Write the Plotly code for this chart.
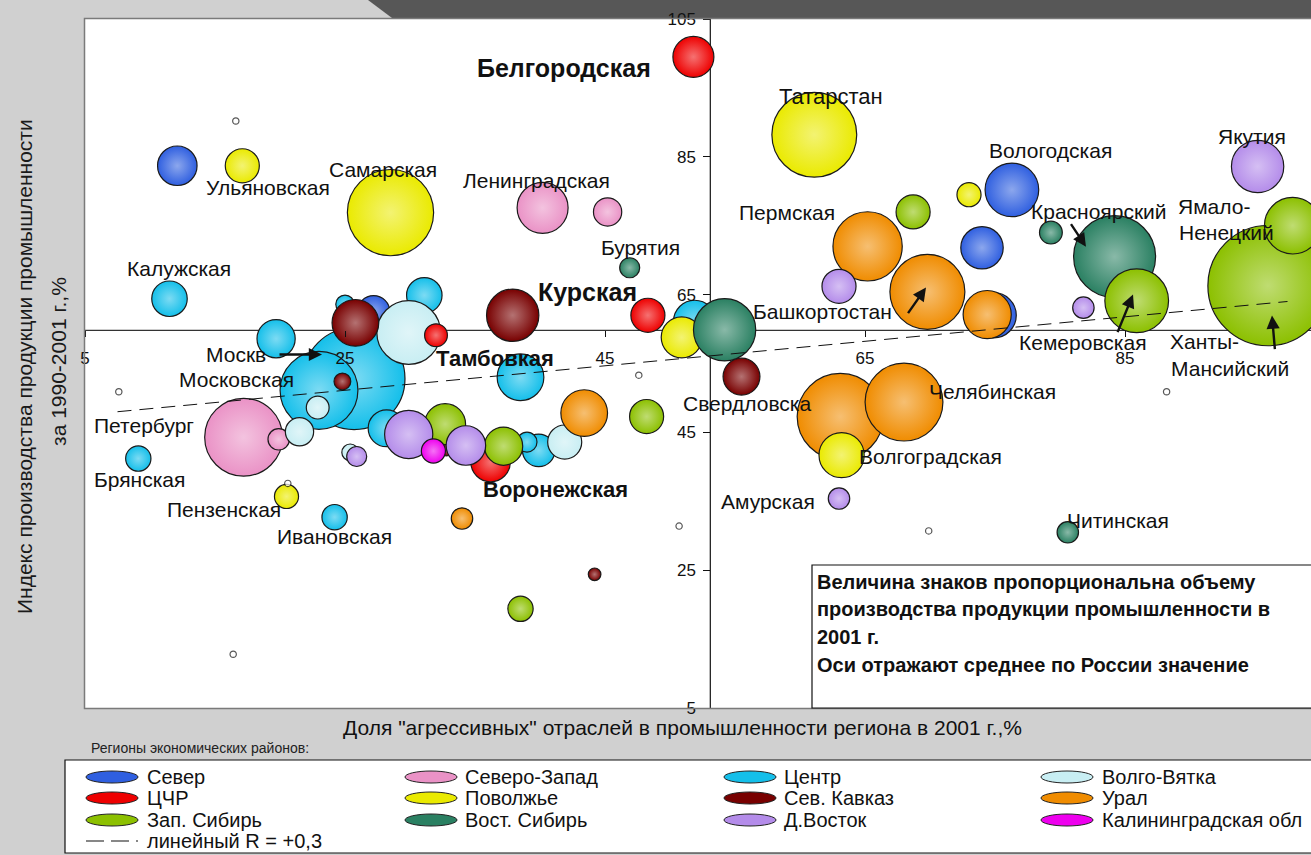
import plotly.graph_objects as go

# ---------------- DATA ----------------
# x: share of "aggressive" industries, %, y: industrial output index 1990-2001, %, v: output volume 2001 (rel. units)
sever_x = [12.1, 27.2, 76.3, 74.0, 74.9]
sever_y = [83.7, 62.5, 80.2, 71.8, 62.0]
sever_v = [7.8, 5.3, 14.4, 9.0, 10.2]
sever_n = ["", "", "Вологодская", "", ""]

szap_x = [17.2, 19.9, 40.2, 45.2]
szap_y = [44.3, 44.0, 77.6, 77.0]
szap_v = [30.3, 2.3, 13.0, 4.0]
szap_n = ["Петербург", "", "Ленинградская", ""]

centr_x = [11.5, 25.0, 31.1, 19.7, 25.7, 23.0, 9.1, 24.2, 28.2, 38.5, 39.0, 39.9, 51.9]
centr_y = [64.4, 63.6, 64.9, 58.6, 52.8, 51.1, 41.2, 32.7, 45.6, 53.0, 43.6, 42.4, 61.1]
centr_v = [6.3, 1.7, 6.3, 7.3, 51.8, 30.3, 3.2, 3.2, 6.8, 10.9, 2.0, 5.3, 9.0]
centr_n = ["Калужская", "", "", "", "Москва", "Московская", "Брянская", "Ивановская", "", "", "", "", ""]

vv_x = [29.9, 22.9, 21.5, 25.4, 41.9]
vv_y = [59.5, 48.6, 45.1, 42.1, 43.6]
vv_v = [20.3, 2.6, 4.0, 1.4, 5.8]
vv_n = ["", "", "", "", ""]

cchr_x = [51.8, 48.3, 32.0, 36.2]
cchr_y = [99.5, 62.0, 59.1, 40.7]
cchr_v = [8.4, 5.8, 2.6, 7.8]
cchr_n = ["Белгородская", "Курская", "Тамбовская", "Воронежская"]

povol_x = [17.1, 28.5, 20.5, 50.9, 61.1, 73.0, 63.2]
povol_y = [83.7, 76.9, 35.7, 58.8, 88.2, 79.5, 41.7]
povol_v = [5.8, 37.2, 2.9, 8.4, 36.0, 2.9, 10.2]
povol_n = ["Ульяновская", "Самарская", "Пензенская", "", "Татарстан", "", "Волгоградская"]

skav_x = [25.8, 37.9, 24.8, 32.8, 55.5, 44.2]
skav_y = [60.9, 62.0, 52.4, 42.5, 53.1, 24.4]
skav_v = [10.9, 13.7, 1.4, 0.8, 6.8, 0.8]
skav_n = ["", "", "", "", "", ""]

ural_x = [43.4, 34.0, 63.1, 68.0, 65.2, 69.8, 74.4]
ural_y = [47.8, 32.5, 47.3, 49.4, 72.0, 65.4, 62.1]
ural_v = [10.9, 2.3, 37.2, 30.3, 24.0, 28.1, 11.6]
ural_n = ["", "", "Свердловская", "Челябинская", "Пермская", "Башкортостан", ""]

zsib_x = [32.7, 37.2, 48.2, 38.5, 68.7, 85.9, 96.0, 97.9]
zsib_y = [46.2, 43.0, 47.3, 19.4, 77.0, 64.1, 66.3, 75.0]
zsib_v = [8.4, 7.3, 5.8, 3.2, 5.8, 20.3, 72.3, 16.0]
zsib_n = ["", "", "", "", "", "Кемеровская", "Ханты-Мансийский", "Ямало-Ненецкий"]

vsib_x = [46.9, 54.2, 79.3, 84.2, 80.6]
vsib_y = [68.9, 59.9, 74.0, 70.5, 30.5]
vsib_v = [2.0, 19.4, 2.6, 33.6, 2.3]
vsib_n = ["Бурятия", "", "", "Красноярский", "Читинская"]

dvost_x = [25.9, 29.9, 34.3, 63.0, 63.0, 81.8, 95.2]
dvost_y = [41.5, 44.7, 43.1, 35.4, 66.2, 63.1, 83.6]
dvost_v = [2.0, 11.6, 7.8, 2.3, 5.8, 2.3, 13.7]
dvost_n = ["", "", "", "Амурская", "", "", "Якутия"]

kal_x = [31.8]
kal_y = [42.3]
kal_v = [2.9]
kal_n = ["Калининградская обл"]

small_x = [16.6, 7.6, 20.6, 47.6, 50.7, 88.2, 69.9, 16.4]
small_y = [90.2, 50.9, 37.6, 53.3, 31.4, 50.9, 30.7, 12.8]
small_v = [0.2, 0.2, 0.2, 0.2, 0.2, 0.2, 0.2, 0.2]

trend_x = [7.5, 97.5]
trend_y = [48.0, 64.0]

russia_avg_x = 53.1   # vertical axis crossing
russia_avg_y = 59.8   # horizontal axis crossing

x_ticks = [5, 25, 45, 65, 85]
y_ticks = [5, 25, 45, 65, 85, 105]

legend_names = ["Север", "Северо-Запад", "Центр", "Волго-Вятка",
                "ЦЧР", "Поволжье", "Сев. Кавказ", "Урал",
                "Зап. Сибирь", "Вост. Сибирь", "Д.Восток", "Калининградская обл"]
legend_colors = ["#2f5fe0", "#ea92c6", "#14bfea", "#c8eef3",
                 "#ee0000", "#eaea00", "#780000", "#f08c00",
                 "#8cc000", "#2a8062", "#b48cea", "#ee00ee"]
trend_name = "линейный R = +0,3"

series = {
    "Север": (sever_x, sever_y, sever_v, sever_n),
    "Северо-Запад": (szap_x, szap_y, szap_v, szap_n),
    "Центр": (centr_x, centr_y, centr_v, centr_n),
    "Волго-Вятка": (vv_x, vv_y, vv_v, vv_n),
    "ЦЧР": (cchr_x, cchr_y, cchr_v, cchr_n),
    "Поволжье": (povol_x, povol_y, povol_v, povol_n),
    "Сев. Кавказ": (skav_x, skav_y, skav_v, skav_n),
    "Урал": (ural_x, ural_y, ural_v, ural_n),
    "Зап. Сибирь": (zsib_x, zsib_y, zsib_v, zsib_n),
    "Вост. Сибирь": (vsib_x, vsib_y, vsib_v, vsib_n),
    "Д.Восток": (dvost_x, dvost_y, dvost_v, dvost_n),
    "Калининградская обл": (kal_x, kal_y, kal_v, kal_n),
}
draw_order = ["Север", "Центр", "Северо-Запад", "Волго-Вятка", "ЦЧР", "Сев. Кавказ",
              "Урал", "Поволжье", "Вост. Сибирь", "Зап. Сибирь", "Д.Восток", "Калининградская обл"]

# ---------------- LAYOUT HELPERS ----------------
W, H = 1311, 855
PL, PT, PB = 85, 19, 708
PW, PH = W - PL, PB - PT
XMIN, YMIN, YMAX = 5, 5, 105
XMAX = XMIN + PW / 13.0

def X(px): return XMIN + (px - PL) / 13.0
def Y(py): return YMAX - (py - PT) / 6.9
def XP(px): return (px - PL) / PW
def YP(py): return (PB - py) / PH

def lighten(hexc, f=0.55):
    h = hexc.lstrip('#')
    r, g, b = int(h[0:2], 16), int(h[2:4], 16), int(h[4:6], 16)
    r = int(r + (255 - r) * f); g = int(g + (255 - g) * f); b = int(b + (255 - b) * f)
    return '#%02x%02x%02x' % (r, g, b)

REG = "Liberation Sans, Arial, sans-serif"

fig = go.Figure()
color_of = dict(zip(legend_names, legend_colors))

for name in draw_order:
    xs, ys, vs, ns = series[name]
    idx = sorted(range(len(vs)), key=lambda i: -vs[i])
    c = color_of[name]
    fig.add_trace(go.Scatter(
        x=[xs[i] for i in idx], y=[ys[i] for i in idx],
        text=[ns[i] for i in idx], customdata=[vs[i] for i in idx],
        mode="markers", name=name,
        marker=dict(size=[vs[i] for i in idx], sizemode="area", sizeref=0.01, sizemin=2,
                    color=c, gradient=dict(type="radial", color=lighten(c, 0.45)),
                    line=dict(color="#1a1a1a", width=1.2), opacity=1),
        hovertemplate="%{text}<br>%{x}; %{y}<extra>" + name + "</extra>",
        cliponaxis=False,
    ))

fig.add_trace(go.Scatter(
    x=small_x, y=small_y, mode="markers", name="прочие",
    marker=dict(size=small_v, sizemode="area", sizeref=0.01, color="white",
                line=dict(color="#111", width=1.2)),
    hoverinfo="skip"))

fig.add_trace(go.Scatter(
    x=trend_x, y=trend_y, mode="lines", name=trend_name,
    line=dict(color="#111", width=1, dash="14px,8px"), hoverinfo="skip"))

shapes = []
# dark slide band on top
shapes.append(dict(type="path", xref="paper", yref="paper", layer="below",
                   path=f"M {XP(368)},{YP(0)} L {XP(1330)},{YP(0)} L {XP(1330)},{YP(18)} L {XP(392)},{YP(18)} Z",
                   fillcolor="#575757", line=dict(width=0)))
# plot frame (left, top, bottom)
shapes.append(dict(type="path", xref="paper", yref="paper", layer="above",
                   path=f"M {XP(1330)},{YP(18.5)} L {XP(84.5)},{YP(18.5)} L {XP(84.5)},{YP(708.5)} L {XP(1330)},{YP(708.5)}",
                   line=dict(color="#7a7a7a", width=1.5)))
# crossing axes at Russian averages
shapes.append(dict(type="line", xref="x", yref="y", layer="below",
                   x0=XMIN, x1=XMAX, y0=russia_avg_y, y1=russia_avg_y,
                   line=dict(color="#333", width=1.2)))
shapes.append(dict(type="line", xref="x", yref="y", layer="below",
                   x0=russia_avg_x, x1=russia_avg_x, y0=YMIN, y1=YMAX,
                   line=dict(color="#111", width=1.2)))
# note box
shapes.append(dict(type="rect", xref="paper", yref="paper", layer="above",
                   x0=XP(812), x1=XP(1330), y0=YP(708), y1=YP(565),
                   fillcolor="white", line=dict(color="#111", width=1.2)))
# legend box
shapes.append(dict(type="rect", xref="paper", yref="paper", layer="above",
                   x0=XP(65), x1=XP(1330), y0=YP(853), y1=YP(760),
                   fillcolor="white", line=dict(color="#111", width=1.2)))

annotations = []
row_y = [777, 798, 820, 841]
col_e = [112, 431, 750, 1067]
col_t = [145, 463, 782, 1100]
for i, (nm, c) in enumerate(zip(legend_names, legend_colors)):
    r, k = i // 4, i % 4
    cx, cy = col_e[k], row_y[r]
    shapes.append(dict(type="circle", xref="paper", yref="paper", layer="above",
                       x0=XP(cx - 26), x1=XP(cx + 26), y0=YP(cy + 6), y1=YP(cy - 6),
                       fillcolor=c, line=dict(color="#222", width=1)))
    annotations.append(dict(text=nm, xref="paper", yref="paper", x=XP(col_t[k]), y=YP(cy),
                            xanchor="left", yanchor="middle", showarrow=False,
                            font=dict(family=REG, size=20, color="#111")))
shapes.append(dict(type="line", xref="paper", yref="paper", layer="above",
                   x0=XP(86), x1=XP(138), y0=YP(row_y[3]), y1=YP(row_y[3]),
                   line=dict(color="#111", width=1.2, dash="18px,7px")))
annotations.append(dict(text=trend_name, xref="paper", yref="paper", x=XP(145), y=YP(row_y[3]),
                        xanchor="left", yanchor="middle", showarrow=False,
                        font=dict(family=REG, size=20, color="#111")))
annotations.append(dict(text="Регионы экономических районов:", xref="paper", yref="paper",
                        x=XP(89), y=YP(748), xanchor="left", yanchor="middle", showarrow=False,
                        font=dict(family=REG, size=14, color="#222")))

# note text
note_lines = ["Величина знаков пропорциональна объему",
              "производства продукции промышленности в",
              "2001 г.",
              "Оси отражают среднее по России значение"]
for ln, py in zip(note_lines, [582, 609, 637, 665]):
    annotations.append(dict(text="<b>" + ln + "</b>", xref="paper", yref="paper",
                            x=XP(815), y=YP(py), xanchor="left", yanchor="middle", showarrow=False,
                            font=dict(family=REG, size=20, color="#111")))

# axis titles
annotations.append(dict(text='Доля "агрессивных" отраслей в промышленности региона в 2001 г.,%',
                        xref="paper", yref="paper", x=XP(682), y=YP(727), xanchor="center",
                        yanchor="middle", showarrow=False, font=dict(family=REG, size=21, color="#111")))
annotations.append(dict(text="Индекс производства продукции промышленности",
                        xref="paper", yref="paper", x=XP(24), y=YP(367), xanchor="center",
                        yanchor="middle", showarrow=False, textangle=-90,
                        font=dict(family=REG, size=21, color="#1a1a1a")))
annotations.append(dict(text="за 1990-2001 г.,%",
                        xref="paper", yref="paper", x=XP(58), y=YP(362), xanchor="center",
                        yanchor="middle", showarrow=False, textangle=-90,
                        font=dict(family=REG, size=21, color="#1a1a1a")))

# point labels (text, left px, center py, bold, size)
labels = [
    ("Белгородская", 475, 68, True, 25), ("Татарстан", 777, 97, False, 22),
    ("Ульяновская", 204, 188, False, 21), ("Самарская", 327, 170, False, 21),
    ("Ленинградская", 461, 181, False, 21), ("Бурятия", 599, 248, False, 21),
    ("Калужская", 125, 269, False, 21), ("Курская", 536, 292, True, 25),
    ("Пермская", 737, 213, False, 21), ("Вологодская", 987, 151, False, 21),
    ("Якутия", 1216, 137, False, 21), ("Красноярский", 1029, 212, False, 21),
    ("Ямало-", 1176, 207, False, 21), ("Ненецкий", 1177, 233, False, 21),
    ("Башкортостан", 751, 312, False, 21), ("Кемеровская", 1017, 343, False, 21),
    ("Ханты-", 1168, 342, False, 21), ("Мансийский", 1169, 369, False, 21),
    ("Москв", 204, 355, False, 21), ("Московская", 177, 380, False, 21),
    ("Тамбовкая", 434, 359, True, 22), ("Свердловска", 681, 404, False, 21),
    ("Челябинская", 927, 392, False, 21), ("Петербург", 92, 426, False, 21),
    ("Брянская", 92, 480, False, 21), ("Пензенская", 165, 510, False, 21),
    ("Ивановская", 275, 537, False, 21), ("Воронежская", 481, 490, True, 22),
    ("Волгоградская", 857, 457, False, 21), ("Амурская", 719, 502, False, 21),
    ("Читинская", 1065, 521, False, 21),
]
for t, px, py, bold, sz in labels:
    annotations.append(dict(text=("<b>%s</b>" % t) if bold else t, x=X(px), y=Y(py),
                            xref="x", yref="y", xanchor="left", yanchor="middle", showarrow=False,
                            font=dict(family=REG, size=sz, color="#111")))

# arrows (head px, tail offset px)
arrows = [((322, 355), (-44, 0)), ((926, 288), (-19, 27)), ((1086, 247), (-16, -24)),
          ((1133, 295), (-16, 39)), ((1272, 316), (3, 35))]
for (hx, hy), (ax, ay) in arrows:
    annotations.append(dict(text="", x=X(hx), y=Y(hy), xref="x", yref="y", ax=ax, ay=ay,
                            showarrow=True, arrowhead=2, arrowsize=1.1, arrowwidth=2.4,
                            arrowcolor="#111", standoff=0, startstandoff=0))

fig.update_layout(
    width=W, height=H, margin=dict(l=PL, r=0, t=PT, b=H - PB, pad=0),
    paper_bgcolor="#d0d0d0", plot_bgcolor="white", showlegend=False,
    xaxis=dict(range=[XMIN, XMAX], anchor="free",
               position=(russia_avg_y - YMIN) / (YMAX - YMIN),
               tickvals=x_ticks, ticktext=[str(v) for v in x_ticks], ticks="outside", ticklen=6,
               tickcolor="#111", showgrid=False, zeroline=False, showline=False,
               tickfont=dict(family=REG, size=17, color="#111"), ticklabelstandoff=6),
    yaxis=dict(range=[YMIN, YMAX], anchor="free",
               position=(russia_avg_x - XMIN) / (XMAX - XMIN),
               tickvals=y_ticks, ticktext=[str(v) for v in y_ticks], ticks="outside", ticklen=7,
               tickcolor="#111", showgrid=False, zeroline=False, showline=False,
               tickfont=dict(family=REG, size=17, color="#111"), ticklabelstandoff=4),
    shapes=shapes, annotations=annotations,
)

fig.write_html("out.html", config={"displayModeBar": False},
               post_script="document.body.style.margin='0';document.body.style.overflow='hidden';")
